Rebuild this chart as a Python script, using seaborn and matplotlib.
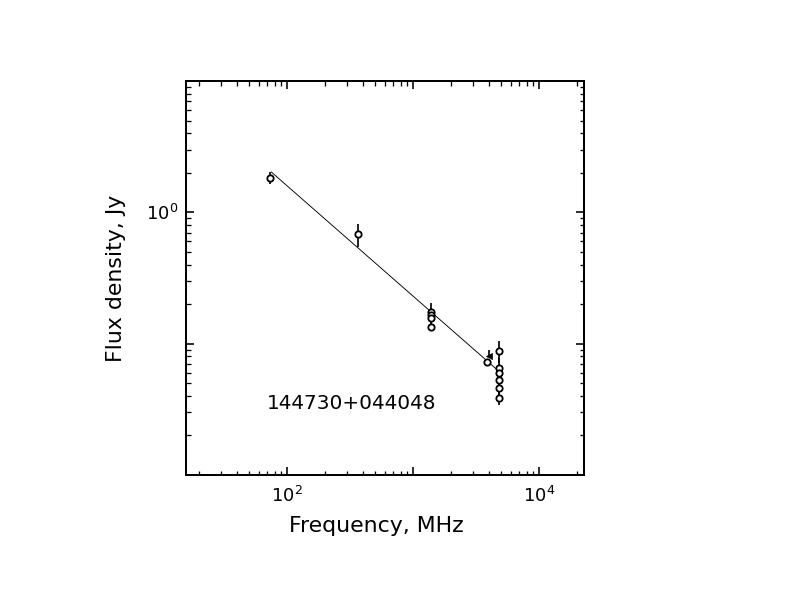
import numpy as np
import pandas as pd
import matplotlib
matplotlib.use("Agg")
import matplotlib.pyplot as plt
import matplotlib.ticker as mticker
import seaborn as sns

# ---- data ----
freq_mhz = [74, 365, 1400, 1400, 1400, 1400, 3900,
            4850, 4850, 4850, 4850, 4850, 4850]
flux_jy = [1.84, 0.679, 0.1755, 0.1665, 0.1565, 0.1349, 0.0720,
           0.0885, 0.0652, 0.0600, 0.0528, 0.0459, 0.0389]
err_lo = [0.19, 0.13, 0.030, 0.020, 0.020, 0.007, 0.004,
          0.017, 0.012, 0.009, 0.008, 0.006, 0.005]
err_hi = [0.19, 0.13, 0.030, 0.020, 0.020, 0.007, 0.004,
          0.017, 0.012, 0.009, 0.008, 0.006, 0.005]

tri_freq = [4000]
tri_flux = [0.081]
tri_err_hi = [0.009]

# power-law fit  S = fit_s0 * (nu / fit_nu0) ** fit_alpha
fit_nu0 = 75.0
fit_s0 = 2.03
fit_alpha = -0.84
fit_range = [75, 4650]

source_name = "144730+044048"
x_label = "Frequency, MHz"
y_label = "Flux density, Jy"
x_tick_vals = [1e1, 1e2, 1e3, 1e4]
x_tick_text = ["", r"$10^{2}$", "", r"$10^{4}$"]
y_tick_vals = [1e-2, 1e-1, 1e0, 1e1]
y_tick_text = ["", "", r"$10^{0}$", ""]

# ---- plotting ----
sns.set_theme(style="white")
plt.rcParams["font.family"] = ["DejaVu Sans"]

W, H = 792, 612
fig = plt.figure(figsize=(W / 72, H / 72), dpi=72)
ax = fig.add_axes([186 / W, (H - 475) / H, 398 / W, 394 / H])

df = pd.DataFrame({"freq": freq_mhz, "flux": flux_jy})
fit_x = np.logspace(np.log10(fit_range[0]), np.log10(fit_range[1]), 50)
fit_df = pd.DataFrame({"freq": fit_x,
                       "flux": fit_s0 * (fit_x / fit_nu0) ** fit_alpha})

ax.set_xscale("log")
ax.set_yscale("log")

sns.lineplot(data=fit_df, x="freq", y="flux", ax=ax, color="black",
             linewidth=0.9, zorder=2)
ax.errorbar(freq_mhz, flux_jy, yerr=[err_lo, err_hi], fmt="none",
            ecolor="black", elinewidth=1.7, capsize=0, zorder=3)
ax.errorbar(tri_freq, tri_flux, yerr=[[0], tri_err_hi], fmt="none",
            ecolor="black", elinewidth=1.7, capsize=0, zorder=3)
sns.scatterplot(data=df, x="freq", y="flux", ax=ax, marker="o", s=40,
                facecolor="white", edgecolor="black", linewidth=1.8,
                zorder=4)
sns.scatterplot(x=tri_freq, y=tri_flux, ax=ax, marker="<", s=40,
                color="black", edgecolor="black", linewidth=0.5, zorder=4)

ax.set_xlim(15.8, 22760)
ax.set_ylim(0.01, 10)

ax.xaxis.set_major_locator(mticker.FixedLocator(x_tick_vals))
ax.xaxis.set_major_formatter(mticker.FixedFormatter(x_tick_text))
ax.yaxis.set_major_locator(mticker.FixedLocator(y_tick_vals))
ax.yaxis.set_major_formatter(mticker.FixedFormatter(y_tick_text))
ax.xaxis.set_minor_locator(mticker.LogLocator(base=10, subs=np.arange(2, 10)))
ax.yaxis.set_minor_locator(mticker.LogLocator(base=10, subs=np.arange(2, 10)))
ax.xaxis.set_minor_formatter(mticker.NullFormatter())
ax.yaxis.set_minor_formatter(mticker.NullFormatter())

ax.tick_params(which="both", direction="in", top=True, right=True,
               bottom=True, left=True, colors="black", labelsize=18)
ax.tick_params(which="major", length=8, width=1.6)
ax.tick_params(which="minor", length=4.5, width=1.3)
ax.tick_params(axis="x", which="major", pad=11)
ax.tick_params(axis="y", which="major", pad=8)

for sp in ax.spines.values():
    sp.set_linewidth(2)
    sp.set_color("black")
ax.grid(False)

ax.set_xlabel(x_label, fontsize=22, color="black")
ax.set_ylabel(y_label, fontsize=22, color="black")
ax.xaxis.set_label_coords(0.479, -0.105)
ax.yaxis.set_label_coords(-0.150, 0.5)
ax.xaxis.label.set_va("top")

ax.text(69, 0.0348, source_name, fontsize=20, ha="left", va="center",
        color="black")

fig.savefig("out.png", dpi=72, facecolor="white")
